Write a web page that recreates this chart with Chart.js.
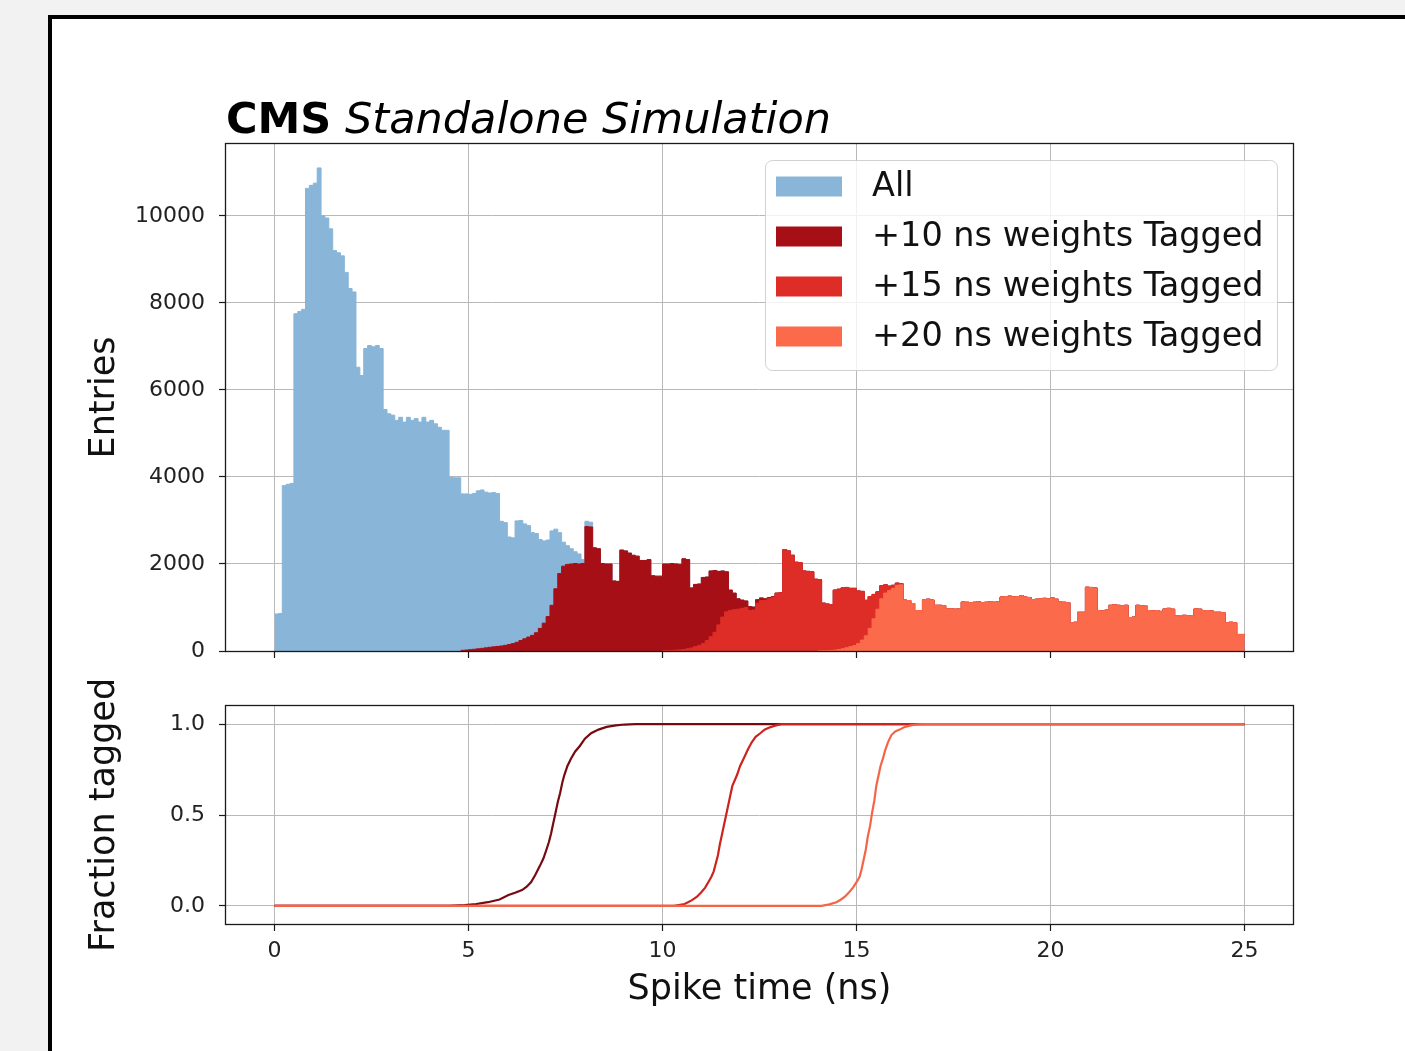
<!DOCTYPE html>
<html><head><meta charset="utf-8">
<script src="https://cdn.jsdelivr.net/npm/chart.js@4.4.1/dist/chart.umd.min.js"></script>
<style>
html,body{margin:0;padding:0;width:1405px;height:1051px;overflow:hidden;background:#f2f2f2;}
#frame{position:absolute;left:48px;top:15px;width:1400px;height:1100px;background:#fff;border-top:4px solid #000;border-left:4px solid #000;}
canvas{position:absolute;left:0;top:0;}
</style></head><body>
<div id="frame"></div>
<canvas id="topChart" width="1405" height="1051"></canvas>
<canvas id="bottomChart" width="1405" height="1051"></canvas>
<script>
// ---------------- data ----------------
const titleBold = 'CMS';
const titleItalic = 'Standalone Simulation';
const xTitle = 'Spike time (ns)';
const yTitleTop = 'Entries';
const yTitleBottom = 'Fraction tagged';
const seriesLabels = ['All', '+10 ns weights Tagged', '+15 ns weights Tagged', '+20 ns weights Tagged'];
const xTicks = [0, 5, 10, 15, 20, 25];
const entriesTicks = [0, 2000, 4000, 6000, 8000, 10000];
const fracTicks = [0.0, 0.5, 1.0];

const binWidthNs = 0.1;   // histogram bins from 0 to 25 ns
// "All" counts, bins of 0.1 ns starting at 0 ns (250 bins)
const allCounts = [
  850, 860, 3800, 3830, 3850, 7750, 7800, 7850, 10630, 10700,
  10750, 11100, 10000, 9950, 9700, 9200, 9150, 9080, 8700, 8330,
  8250, 6520, 6330, 6950, 7020, 6990, 7020, 6950, 5550, 5450,
  5420, 5300, 5370, 5260, 5370, 5300, 5340, 5260, 5370, 5260,
  5300, 5220, 5140, 5070, 5070, 3990, 3980, 3980, 3610, 3610,
  3600, 3620, 3680, 3700, 3650, 3630, 3640, 3620, 2980, 2950,
  2620, 2600, 2990, 3000, 2920, 2880, 2720, 2700, 2560, 2530,
  2550, 2760, 2800, 2720, 2500, 2420, 2350, 2280, 2230, 2100,
  2980, 2960, 2370, 2350, 2010, 2000, 2000, 1610, 1600, 2320,
  2300, 2250, 2200, 2180, 2080, 2080, 2100, 1730, 1720, 1720,
  2000, 2000, 2010, 2000, 1990, 2120, 2100, 1450, 1530, 1540,
  1690, 1700, 1840, 1850, 1830, 1840, 1820, 1400, 1330, 1200,
  1170, 1150, 1020, 1010, 1180, 1220, 1200, 1230, 1250, 1330,
  1340, 2330, 2300, 2200, 2040, 2030, 1840, 1830, 1820, 1650,
  1640, 1100, 1080, 1060, 1400, 1420, 1450, 1460, 1440, 1440,
  1380, 1370, 1165, 1250, 1300, 1360, 1500, 1520, 1490, 1510,
  1560, 1550, 1170, 1160, 1090, 930, 930, 1180, 1190, 1170,
  1050, 1050, 1040, 970, 970, 960, 970, 1125, 1120, 1110,
  1120, 1130, 1110, 1120, 1130, 1120, 1130, 1240, 1250, 1260,
  1240, 1250, 1270, 1240, 1230, 1180, 1190, 1200, 1210, 1200,
  1220, 1190, 1125, 1120, 1110, 650, 660, 890, 890, 1465,
  1460, 1450, 930, 920, 940, 1050, 1060, 1050, 1040, 1050,
  770, 780, 1050, 1040, 1030, 930, 920, 930, 910, 970,
  980, 960, 810, 800, 820, 810, 800, 970, 960, 930,
  930, 920, 890, 890, 880, 650, 660, 650, 380, 380
];
// tagged histograms: rising part, then identical to "All" once fully tagged
const tagged10StartBin = 48;
const tagged10Rise = [15, 22, 30, 40, 50, 60, 72, 85, 95, 105, 115, 130, 150, 170, 200, 240, 280, 320, 360, 420,
  520, 640, 790, 1050, 1430, 1780, 1950, 1990, 2000, 2010, 2000, 2010, 2860, 2850];
const tagged10JoinBin = 82;
const tagged15StartBin = 100;
const tagged15Rise = [10, 12, 15, 20, 25, 35, 50, 70, 100, 130, 170, 240, 330, 430, 600, 780, 900, 930, 950, 960,
  980, 1000, 930, 940, 1100, 1160, 1160, 1200, 1235];
const tagged15JoinBin = 129;
const tagged20StartBin = 140;
const tagged20Rise = [3, 5, 8, 12, 20, 32, 50, 75, 100, 125, 170, 250, 350, 520, 740, 960, 1200, 1330, 1390, 1440,
  1510, 1520];
const tagged20JoinBin = 162;

// fraction tagged curves
const frac10Ns = [0, 4.5, 4.9, 5.2, 5.5, 5.8, 6.03, 6.2, 6.38, 6.5, 6.61, 6.72, 6.84, 6.93, 7.01, 7.07, 7.13, 7.18, 7.24, 7.3, 7.36, 7.42, 7.47, 7.55, 7.64, 7.75, 7.87, 8.0, 8.16, 8.35, 8.56, 8.8, 9.02, 9.3, 9.6, 25];
const frac10Val = [0, 0, 0.004, 0.01, 0.02, 0.035, 0.06, 0.072, 0.087, 0.105, 0.13, 0.17, 0.22, 0.26, 0.31, 0.35, 0.40, 0.45, 0.51, 0.57, 0.62, 0.68, 0.72, 0.77, 0.81, 0.85, 0.88, 0.92, 0.95, 0.97, 0.985, 0.993, 0.998, 1.0, 1.0, 1.0];
const frac15Ns = [0, 10.3, 10.57, 10.75, 10.89, 11.0, 11.1, 11.18, 11.26, 11.32, 11.37, 11.43, 11.48, 11.54, 11.59, 11.64, 11.68, 11.74, 11.8, 11.86, 11.92, 12.0, 12.09, 12.2, 12.3, 12.4, 12.52, 12.63, 12.74, 12.9, 13.07, 25];
const frac15Val = [0, 0, 0.01, 0.03, 0.05, 0.075, 0.10, 0.13, 0.16, 0.19, 0.23, 0.28, 0.34, 0.40, 0.45, 0.50, 0.54, 0.60, 0.66, 0.69, 0.72, 0.77, 0.81, 0.86, 0.90, 0.93, 0.95, 0.97, 0.98, 0.992, 1.0, 1.0];
const frac20Ns = [0, 14.1, 14.3, 14.48, 14.6, 14.7, 14.81, 14.91, 15.0, 15.08, 15.13, 15.18, 15.24, 15.29, 15.35, 15.4, 15.46, 15.51, 15.57, 15.62, 15.68, 15.73, 15.81, 15.9, 16.0, 16.11, 16.25, 16.43, 16.6, 16.76, 25];
const frac20Val = [0, 0, 0.008, 0.02, 0.035, 0.05, 0.075, 0.10, 0.13, 0.16, 0.20, 0.25, 0.31, 0.38, 0.44, 0.51, 0.58, 0.66, 0.72, 0.77, 0.81, 0.85, 0.90, 0.94, 0.96, 0.97, 0.985, 0.995, 0.999, 1.0, 1.0];

// ---------------- styling ----------------
const FONT = '"DejaVu Sans", "Liberation Sans", sans-serif';
const histColors = ['#88b5d8', '#a50f15', '#de2d26', '#fb6a4a'];
const lineColors = ['#760a10', '#cc231e', '#f46548'];
const gridColor = '#b8b8b8';

function histPoints(startBin, counts) {
  const pts = counts.map((c, i) => ({ x: +((startBin + i) * binWidthNs).toFixed(3), y: c }));
  pts.push({ x: +((startBin + counts.length) * binWidthNs).toFixed(3), y: counts[counts.length - 1] });
  return pts;
}
const tagged10 = tagged10Rise.concat(allCounts.slice(tagged10JoinBin));
const tagged15 = tagged15Rise.concat(allCounts.slice(tagged15JoinBin));
const tagged20 = tagged20Rise.concat(allCounts.slice(tagged20JoinBin));

const histSets = [
  { data: histPoints(0, allCounts), order: 4 },
  { data: histPoints(tagged10StartBin, tagged10), order: 3 },
  { data: histPoints(tagged15StartBin, tagged15), order: 2 },
  { data: histPoints(tagged20StartBin, tagged20), order: 1 }
].map((d, i) => ({
  label: seriesLabels[i], data: d.data, order: d.order,
  backgroundColor: histColors[i], borderColor: histColors[i], borderWidth: 1,
  stepped: true, fill: 'origin', pointRadius: 0, tension: 0
}));

const fracSets = [[frac10Ns, frac10Val, 3], [frac15Ns, frac15Val, 2], [frac20Ns, frac20Val, 1]].map((a, i) => ({
  label: seriesLabels[i + 1], order: a[2],
  data: a[0].map((x, j) => ({ x: x, y: a[1][j] })),
  borderColor: lineColors[i], backgroundColor: lineColors[i], borderWidth: 2.2,
  fill: false, pointRadius: 0, tension: 0
}));

const framePlugin = {
  id: 'frame',
  afterDraw(chart) {
    const { ctx, chartArea: a } = chart;
    ctx.save();
    ctx.strokeStyle = '#1a1a1a'; ctx.lineWidth = 1.3;
    ctx.strokeRect(Math.round(a.left) - 0.5, Math.round(a.top) - 0.5, Math.round(a.right - a.left) + 1, Math.round(a.bottom - a.top) + 1);
    ctx.restore();
  }
};
const titlePlugin = {
  id: 'cmsTitle',
  afterDraw(chart) {
    const { ctx, chartArea: a } = chart;
    ctx.save();
    ctx.fillStyle = '#000'; ctx.textBaseline = 'alphabetic'; ctx.textAlign = 'left';
    ctx.font = 'bold 43px ' + FONT;
    const x0 = a.left, y0 = a.top - 11;
    ctx.fillText(titleBold, x0, y0);
    const w = ctx.measureText(titleBold).width;
    ctx.font = 'italic 43px ' + FONT;
    const sp = ctx.measureText(' ').width;
    ctx.fillText(titleItalic, x0 + w + sp, y0);
    ctx.restore();
  }
};
const legendPlugin = {
  id: 'boxLegend',
  afterDraw(chart) {
    const { ctx, chartArea: a } = chart;
    const w = 512, h = 210;
    const x = a.right - 16 - w, y = a.top + 16;
    ctx.save();
    ctx.beginPath();
    ctx.roundRect(x + 0.5, y + 0.5, w, h, 7);
    ctx.fillStyle = 'rgba(255,255,255,0.8)'; ctx.fill();
    ctx.strokeStyle = 'rgba(204,204,204,0.9)'; ctx.lineWidth = 1; ctx.stroke();
    ctx.font = '33.5px ' + FONT; ctx.textBaseline = 'middle'; ctx.textAlign = 'left';
    chart.data.datasets.forEach((ds, i) => {
      const cy = y + 26.5 + i * 50;
      ctx.fillStyle = ds.backgroundColor;
      ctx.fillRect(x + 11, cy - 10, 66, 20);
      ctx.fillStyle = '#111';
      ctx.fillText(ds.label, x + 107, cy + 1);
    });
    ctx.restore();
  }
};

const tickFont = { family: FONT, size: 22 };
const titleFont = { family: FONT, size: 35 };
function setTicks(arr) { return (s) => { s.ticks = arr.map(v => ({ value: v })); }; }

const common = {
  responsive: false, devicePixelRatio: 1, animation: false,
  plugins: { legend: { display: false }, tooltip: { enabled: false } },
  interaction: { mode: null }, events: []
};

new Chart(document.getElementById('topChart'), {
  type: 'line',
  data: { datasets: histSets },
  options: Object.assign({}, common, {
    layout: { padding: { left: 70, right: 112, top: 144, bottom: 380 } },
    scales: {
      x: {
        type: 'linear', min: -1.25, max: 26.25,
        afterBuildTicks: setTicks(xTicks),
        afterFit: s => { s.height = 20; },
        grid: { color: gridColor, lineWidth: 1, tickLength: 7, tickColor: '#1a1a1a', tickWidth: 1.2 },
        border: { display: false },
        ticks: { autoSkip: false, maxRotation: 0, callback: () => '', font: tickFont }
      },
      y: {
        type: 'linear', min: 0, max: 11650,
        afterBuildTicks: setTicks(entriesTicks),
        afterFit: s => { s.width = 156; },
        grid: { color: gridColor, lineWidth: 1, tickLength: 7, tickColor: '#1a1a1a', tickWidth: 1.2 },
        border: { display: false },
        ticks: { autoSkip: false, padding: 14, font: tickFont, color: '#222', callback: v => String(v) },
        title: { display: true, text: yTitleTop, font: titleFont, color: '#111', padding: { top: 14, bottom: 0 } }
      }
    }
  }),
  plugins: [framePlugin, titlePlugin, legendPlugin]
});

new Chart(document.getElementById('bottomChart'), {
  type: 'line',
  data: { datasets: fracSets },
  options: Object.assign({}, common, {
    layout: { padding: { left: 70, right: 112, top: 706, bottom: 30 } },
    scales: {
      x: {
        type: 'linear', min: -1.25, max: 26.25,
        afterBuildTicks: setTicks(xTicks),
        afterFit: s => { s.height = 97; },
        grid: { color: gridColor, lineWidth: 1, tickLength: 7, tickColor: '#1a1a1a', tickWidth: 1.2 },
        border: { display: false },
        ticks: { autoSkip: false, maxRotation: 0, padding: 7, font: tickFont, color: '#222', callback: v => String(v) },
        title: { display: true, text: xTitle, font: titleFont, color: '#111', padding: { top: 0, bottom: 10 } }
      },
      y: {
        type: 'linear', min: -0.1, max: 1.1,
        afterBuildTicks: setTicks(fracTicks),
        afterFit: s => { s.width = 156; },
        grid: { color: gridColor, lineWidth: 1, tickLength: 7, tickColor: '#1a1a1a', tickWidth: 1.2 },
        border: { display: false },
        ticks: { autoSkip: false, padding: 14, font: tickFont, color: '#222', callback: v => Number(v).toFixed(1) },
        title: { display: true, text: yTitleBottom, font: titleFont, color: '#111', padding: { top: 14, bottom: 0 } }
      }
    }
  }),
  plugins: [framePlugin]
});
</script></body></html>
